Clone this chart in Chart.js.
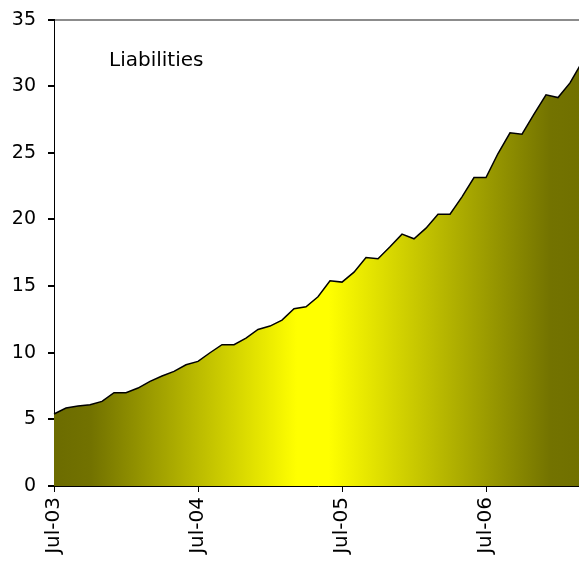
<!DOCTYPE html>
<html>
<head>
<meta charset="utf-8">
<script src="https://cdn.jsdelivr.net/npm/chart.js@4/dist/chart.umd.min.js"></script>
<style>
    html, body { margin: 0; padding: 0; background: #fff; overflow: hidden; }
    #wrap { width: 600px; height: 564px; position: relative; }
</style>
</head>
<body>
<div id="wrap"><canvas id="liabChart"></canvas></div>
<script>
// Monthly data, Jul-03 .. Mar-07
const months = [
    'Jul-03', 'Aug-03', 'Sep-03', 'Oct-03', 'Nov-03', 'Dec-03',
    'Jan-04', 'Feb-04', 'Mar-04', 'Apr-04', 'May-04', 'Jun-04',
    'Jul-04', 'Aug-04', 'Sep-04', 'Oct-04', 'Nov-04', 'Dec-04',
    'Jan-05', 'Feb-05', 'Mar-05', 'Apr-05', 'May-05', 'Jun-05',
    'Jul-05', 'Aug-05', 'Sep-05', 'Oct-05', 'Nov-05', 'Dec-05',
    'Jan-06', 'Feb-06', 'Mar-06', 'Apr-06', 'May-06', 'Jun-06',
    'Jul-06', 'Aug-06', 'Sep-06', 'Oct-06', 'Nov-06', 'Dec-06',
    'Jan-07', 'Feb-07', 'Mar-07'
];
const liabilities = [
    5.4, 5.85, 6.0, 6.1, 6.35, 7.0,
    7.0, 7.35, 7.85, 8.25, 8.6, 9.1,
    9.35, 10.0, 10.6, 10.6, 11.1, 11.75,
    12.0, 12.45, 13.3, 13.45, 14.2, 15.4,
    15.3, 16.05, 17.15, 17.05, 17.95, 18.9,
    18.55, 19.35, 20.4, 20.4, 21.7, 23.15,
    23.15, 24.95, 26.5, 26.4, 27.9, 29.35,
    29.15, 30.25, 31.8
];
const xTickLabels = ['Jul-03', 'Jul-04', 'Jul-05', 'Jul-06'];
const seriesName = 'Liabilities';

const FONT = "'DejaVu Sans', Verdana, sans-serif";

// olive at both sides, yellow band in the middle
function areaGradient(context) {
    const chart = context.chart;
    const area = chart.chartArea;
    if (!area) return '#c0c000';
    const g = chart.ctx.createLinearGradient(area.left, 0, area.right, 0);
    g.addColorStop(0, '#6c6c00');
    g.addColorStop(0.07, '#727200');
    g.addColorStop(0.46, '#ffff00');
    g.addColorStop(0.52, '#ffff00');
    g.addColorStop(0.94, '#737300');
    g.addColorStop(1, '#707000');
    return g;
}

// series name written inside the plot
const labelPlugin = {
    id: 'seriesLabel',
    afterDraw(chart) {
        const ctx = chart.ctx;
        ctx.save();
        ctx.font = '20px ' + FONT;
        ctx.fillStyle = '#000';
        ctx.textBaseline = 'alphabetic';
        ctx.fillText(seriesName, 109, 66);
        ctx.restore();
    }
};

new Chart(document.getElementById('liabChart'), {
    type: 'line',
    data: {
        labels: months,
        datasets: [{
            label: seriesName,
            data: liabilities,
            borderColor: '#000',
            borderWidth: 1.5,
            backgroundColor: areaGradient,
            fill: 'origin',
            tension: 0,
            pointRadius: 0
        }]
    },
    options: {
        responsive: true,
        maintainAspectRatio: false,
        animation: false,
        layout: { padding: { top: 18, right: 18, left: 0, bottom: 0 } },
        plugins: {
            legend: { display: false },
            tooltip: { enabled: false }
        },
        scales: {
            x: {
                offset: false,
                border: { color: '#000', width: 1 },
                grid: { drawOnChartArea: false, tickColor: '#000', tickLength: 6 },
                ticks: {
                    autoSkip: false,
                    maxRotation: 90,
                    minRotation: 90,
                    padding: 5,
                    color: '#000',
                    font: { family: FONT, size: 20 },
                    callback: function(value) {
                        const lbl = this.getLabelForValue(value);
                        return xTickLabels.includes(lbl) ? lbl : null;
                    }
                },
                afterFit: function(scale) { scale.height = 78; }
            },
            y: {
                min: 0,
                max: 35,
                border: { color: '#000', width: 1 },
                grid: {
                    color: ctx => ctx.tick && ctx.tick.value === 35 ? '#8c8c8c' : 'rgba(0,0,0,0)',
                    lineWidth: 2,
                    tickColor: '#000',
                    tickLength: 6
                },
                ticks: {
                    stepSize: 5,
                    padding: 12,
                    color: '#000',
                    font: { family: FONT, size: 19, lineHeight: 0.8 }
                },
                afterFit: function(scale) { scale.width = 54; }
            }
        }
    },
    plugins: [labelPlugin]
});
</script>
</body>
</html>
